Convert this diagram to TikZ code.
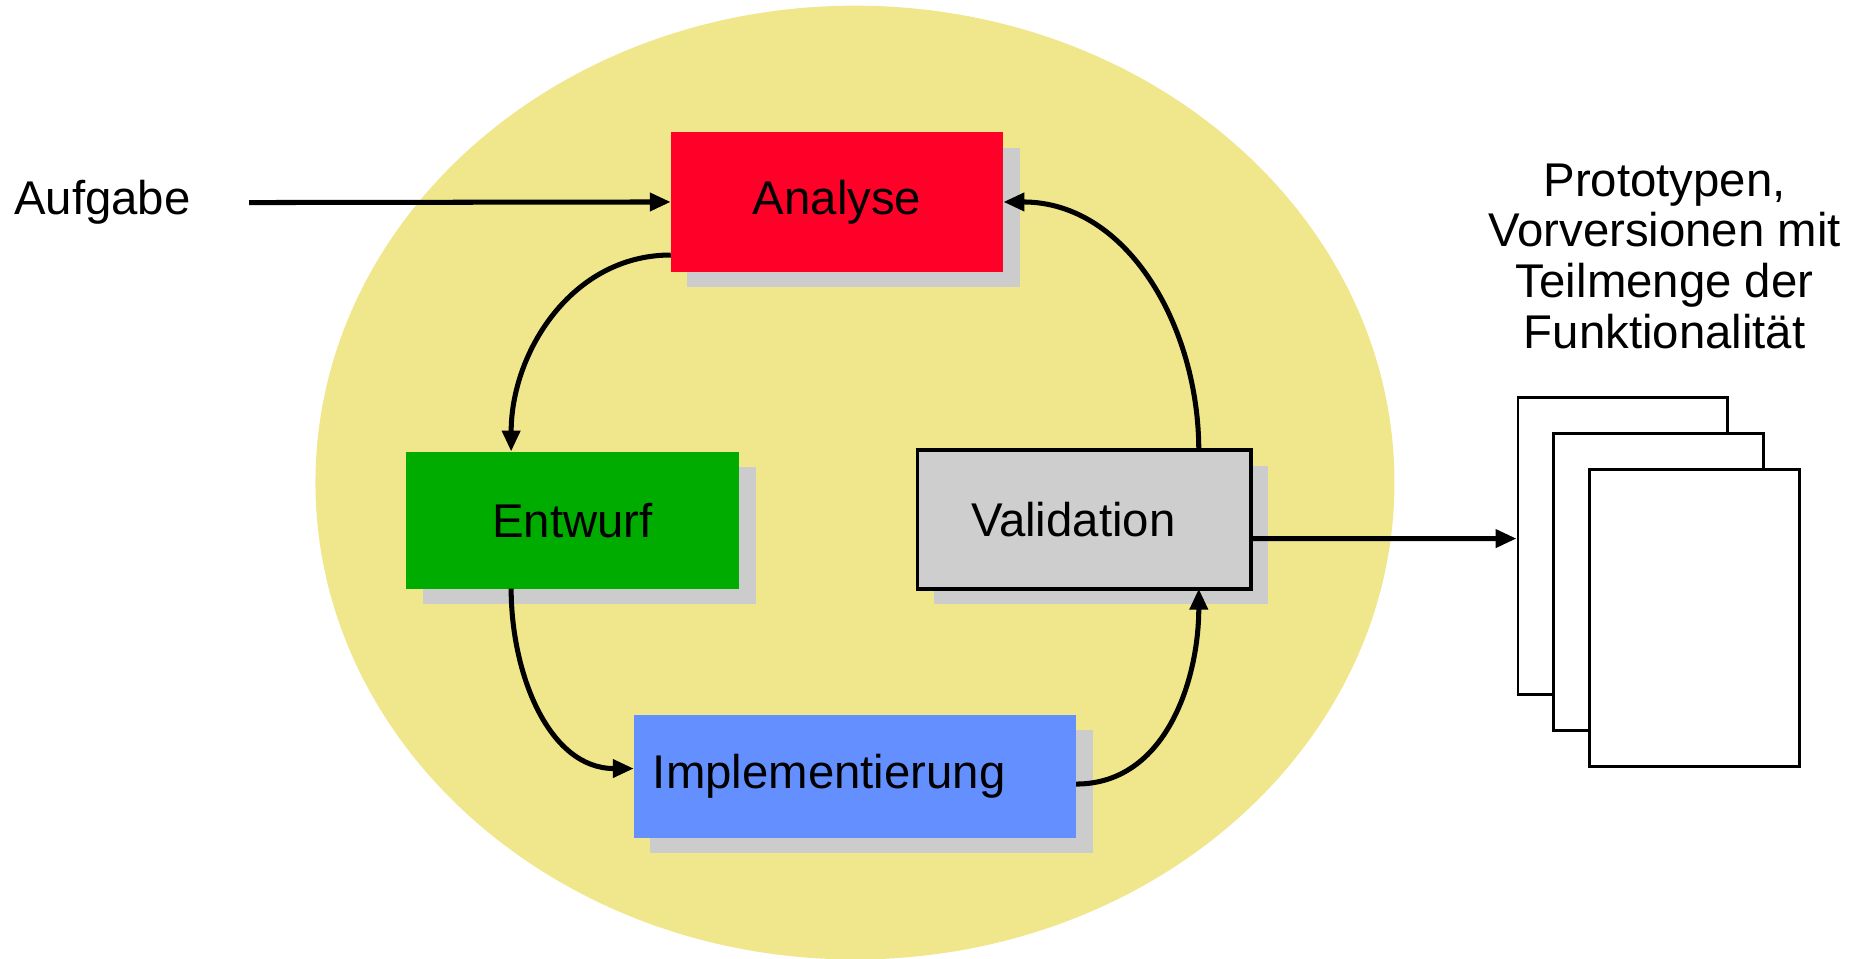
\documentclass[tikz,border=0pt]{standalone}
\usepackage{fontspec}
\setmainfont{Liberation Sans}
\usepackage{tikz}
\usetikzlibrary{positioning}
\usetikzlibrary{arrows.meta}
\usetikzlibrary{shadows}

\definecolor{ovalyellow}{RGB}{240,230,140}
\definecolor{boxred}{RGB}{255,0,41}
\definecolor{boxgreen}{RGB}{0,172,0}
\definecolor{boxblue}{RGB}{100,144,255}
\definecolor{boxgray}{RGB}{206,206,206}
\definecolor{shadowgray}{RGB}{204,204,204}

\tikzset{
    phase/.style={inner sep=0pt, outer sep=0pt,
        copy shadow={shadow xshift=0.14cm, shadow yshift=-0.13cm, fill=shadowgray, draw=none}},
    flow/.style={-{Triangle[length=5pt,width=4.2pt]}, line width=1.2pt},
    page/.style={draw, fill=white, line width=0.7pt, minimum width=1.76cm, minimum height=2.49cm, inner sep=0pt}
}

\begin{document}
\begin{tikzpicture}[x=0.01cm, y=-0.01cm, font=\fontsize{11.3}{12.1}\selectfont]
        \useasboundingbox (0,0) rectangle (1566,804);
        \begin{scope}
            \clip (0,0) rectangle (1566,804);
            \fill[ovalyellow] (717.5,405) ellipse [x radius=452.5cm/100, y radius=400cm/100];
        \end{scope}
        % phases of the cycle
        \node[phase, fill=boxred, minimum width=2.79cm, minimum height=1.17cm] (analyse) at (702.5,169.5) {Analyse};
        \node[phase, fill=boxgreen, minimum width=2.79cm, minimum height=1.15cm] (entwurf) at (480.5,436.5) {Entwurf};
        \node[phase, fill=boxgray, draw, line width=0.9pt, minimum width=2.8cm, minimum height=1.16cm,
            text width=1.9cm, inner xsep=0.45cm, inner ysep=0pt, align=left] (valid) at (910,436) {Validation};
        \node[phase, fill=boxblue, minimum width=3.71cm, minimum height=1.03cm,
            text width=3.39cm, inner xsep=0.16cm, inner ysep=0pt, align=left] (impl) at (717.5,651.5) {Implementierung};
        % input and output
        \node (aufgabe) at (86,170) {Aufgabe};
        \coordinate (start) at (209,170);
        \node[align=center] (proto) at (1397,215) {Prototypen,\\Vorversionen mit\\Teilmenge der\\Funktionalität};
        \foreach \i in {0,1,2}
            \node[page] (page\i) at (1362+30*\i,458.5+30*\i) {};
        % arrows
        \draw[flow] (start) -- (analyse.west);
        \draw[flow] ([yshift=0.14cm]analyse.south west) to[out=180, in=90] ([xshift=0.88cm]entwurf.north west);
        \draw[flow] ([xshift=0.88cm]entwurf.south west) to[out=-90, in=180] ([yshift=0.065cm]impl.west);
        \draw[flow] ([yshift=-0.065cm]impl.east) to[out=0, in=-90] ([xshift=-0.44cm]valid.south east);
        \draw[flow] ([xshift=-0.44cm]valid.north east) to[out=90, in=0] (analyse.east);
        \draw[flow] ([yshift=-0.16cm]valid.east) -- ([yshift=0.065cm]page0.west);
    \end{tikzpicture}
\end{document}
